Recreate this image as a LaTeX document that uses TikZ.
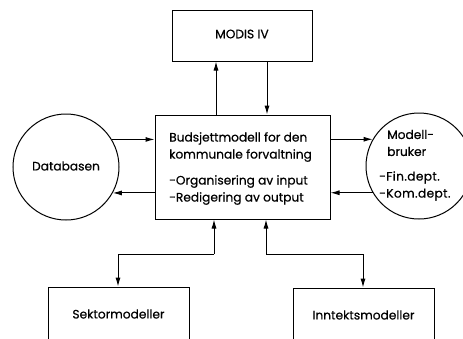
\documentclass[tikz,border=0pt]{standalone}
\usepackage{fontspec}
\setmainfont{Poppins}[BoldFont={Poppins},BoldFeatures={FakeBold=0.5}]
\newfontfamily\widefont{Poppins}[LetterSpace=3,BoldFont={Poppins},BoldFeatures={FakeBold=0.5,LetterSpace=3}]
\usetikzlibrary{arrows.meta}
\begin{document}
\begin{tikzpicture}[x=1pt,y=-1pt,
  box/.style={draw,line width=1pt,inner sep=0pt},
  circ/.style={draw,circle,line width=1pt,inner sep=0pt,minimum size=106pt},
  arr/.style={line width=1pt,-{Latex[length=9pt,width=5pt]}},
  ln/.style={line width=1pt},
  lbl/.style={font=\bfseries\fontsize{12.2}{17}\selectfont,align=left,inner sep=0pt}]
\useasboundingbox (0,0) rectangle (463,338);
\clip (0,0) rectangle (463,338);
\node[box,minimum width=140pt,minimum height=51pt] (modis) at (242,35.5) {};
\node[lbl] (modist) at (242,34) {MODIS IV};
\node[box,minimum width=175pt,minimum height=104pt] (budget) at (242.5,167) {};
\node[lbl,anchor=west] (bt1) at (169,147) {Budsjettmodell for den\\kommunale forvaltning};
\node[lbl,anchor=west] (bt2) at (169,190) {-Organisering av input\\-Redigering av output};
\node[circ] (db) at (66,167) {};
\node[lbl] (dbt) at (66,166) {Databasen};
\node[circ] (user) at (419,166) {};
\node[lbl,anchor=west] (ut1) at (387,143) {Modell-\\bruker};
\node[lbl,anchor=west,font=\widefont\bfseries\fontsize{12.2}{17}\selectfont] (ut2) at (379,186) {-Fin.dept.\\-Kom.dept.};
\node[box,minimum width=141pt,minimum height=54pt] (sektor) at (118.5,314) {};
\node[lbl] (sektort) at (118.5,314) {Sektormodeller};
\node[box,minimum width=141pt,minimum height=54pt] (inntekt) at (363.5,315) {};
\node[lbl] (inntektt) at (363.5,315) {Inntektsmodeller};
% MODIS arrows
\draw[arr] (budget.north -| 216,0) -- (modis.south -| 216,0);
\draw[arr] (modis.south -| 267,0) -- (budget.north -| 267,0);
% Databasen
\draw[arr] (db.31) -- (db.31 -| budget.west);
\draw[arr] (budget.west |- db.-29) -- (db.-29);
% user
\draw[arr] (budget.east |- user.150) -- (user.150);
\draw[arr] (user.-150) -- (user.-150 -| budget.east);
% bottom
\coordinate (b1) at (214,254);
\coordinate (b2) at (118,254);
\coordinate (c1) at (266,254);
\coordinate (c2) at (363,254);
\draw[arr] (b1) -- (b1 |- budget.south);
\draw[ln] (b1) -- (b2);
\draw[arr] (b2) -- (b2 |- sektor.north);
\draw[arr] (c1) -- (c1 |- budget.south);
\draw[ln] (c1) -- (c2);
\draw[arr] (c2) -- (c2 |- inntekt.north);
\end{tikzpicture}
\end{document}
